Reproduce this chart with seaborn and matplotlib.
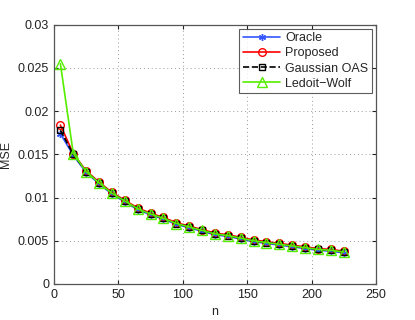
import numpy as np
import pandas as pd
import matplotlib
matplotlib.use("Agg")
import matplotlib.pyplot as plt
import seaborn as sns

n = [5, 15, 25, 35, 45, 55, 65, 75, 85, 95, 105, 115, 125, 135, 145, 155, 165, 175, 185, 195, 205, 215, 225]
oracle = [0.0174, 0.0149, 0.0129, 0.0116, 0.0104, 0.0095, 0.0086, 0.0080, 0.0075, 0.0069, 0.0065, 0.0061,
          0.0057, 0.0055, 0.0052, 0.0049, 0.0047, 0.0045, 0.0043, 0.0041, 0.0039, 0.0038, 0.0036]
proposed = [0.0184, 0.0151, 0.0131, 0.0118, 0.0106, 0.0097, 0.0088, 0.0082, 0.0077, 0.0071, 0.0067, 0.0063,
            0.0059, 0.0057, 0.0054, 0.0051, 0.0049, 0.0047, 0.0045, 0.0043, 0.0041, 0.0040, 0.0038]
oas = [0.0178, 0.0150, 0.0130, 0.0117, 0.0105, 0.0096, 0.0087, 0.0081, 0.0076, 0.0070, 0.0066, 0.0062,
       0.0058, 0.0056, 0.0053, 0.0050, 0.0048, 0.0046, 0.0044, 0.0042, 0.0040, 0.0039, 0.0037]
ledoit_wolf = [0.0255, 0.0151, 0.0130, 0.0117, 0.0105, 0.0096, 0.0087, 0.0081, 0.0076, 0.0070, 0.0066, 0.0062,
               0.0058, 0.0056, 0.0053, 0.0050, 0.0048, 0.0046, 0.0044, 0.0042, 0.0040, 0.0039, 0.0037]

sns.set_style("white")
plt.rcParams['font.family'] = ['Liberation Sans', 'DejaVu Sans']

fig = plt.figure(figsize=(4.15, 3.2), dpi=100)
ax = fig.add_axes([0.130, 0.1125, 0.776, 0.81])

series = [
    ("Oracle", oracle, dict(color="#3355ff", marker=(6, 2, 0), linestyle="-", markersize=5)),
    ("Proposed", proposed, dict(color="#ff0000", marker="o", linestyle="-", markersize=5.5, markerfacecolor="none")),
    ("Gaussian OAS", oas, dict(color="black", marker="s", linestyle="--", markersize=4.5, markerfacecolor="none")),
    ("Ledoit\u2212Wolf", ledoit_wolf, dict(color="#55ee00", marker="^", linestyle="-", markersize=6.5, markerfacecolor="none")),
]
for label, vals, kw in series:
    df = pd.DataFrame({"n": n, "MSE": vals})
    sns.lineplot(data=df, x="n", y="MSE", ax=ax, label=label, linewidth=1.2,
                 markeredgecolor=kw["color"], markeredgewidth=1.0, **kw)

ax.set_xlim(0, 250)
ax.set_ylim(0, 0.03)
ax.set_xticks([0, 50, 100, 150, 200, 250])
ax.set_yticks([0, 0.005, 0.01, 0.015, 0.02, 0.025, 0.03])
ax.set_yticklabels(["0", "0.005", "0.01", "0.015", "0.02", "0.025", "0.03"])
ax.grid(True, linestyle=(0, (1, 3)), color="#999999", linewidth=0.7)
ax.tick_params(direction="in", length=3, labelsize=9, colors="#222222",
               top=True, right=True, bottom=True, left=True)
for s in ax.spines.values():
    s.set_color("#555555")
    s.set_linewidth(0.9)
ax.set_xlabel("n", fontsize=9)
ax.set_ylabel("MSE", fontsize=9)

leg = ax.legend(loc="upper right", fontsize=9, frameon=True, fancybox=False,
                edgecolor="#333333", handlelength=3.0, borderpad=0.3, labelspacing=0.25,
                handletextpad=0.4, borderaxespad=0.3)
leg.get_frame().set_linewidth(0.8)

fig.savefig("out.png", dpi=100)
